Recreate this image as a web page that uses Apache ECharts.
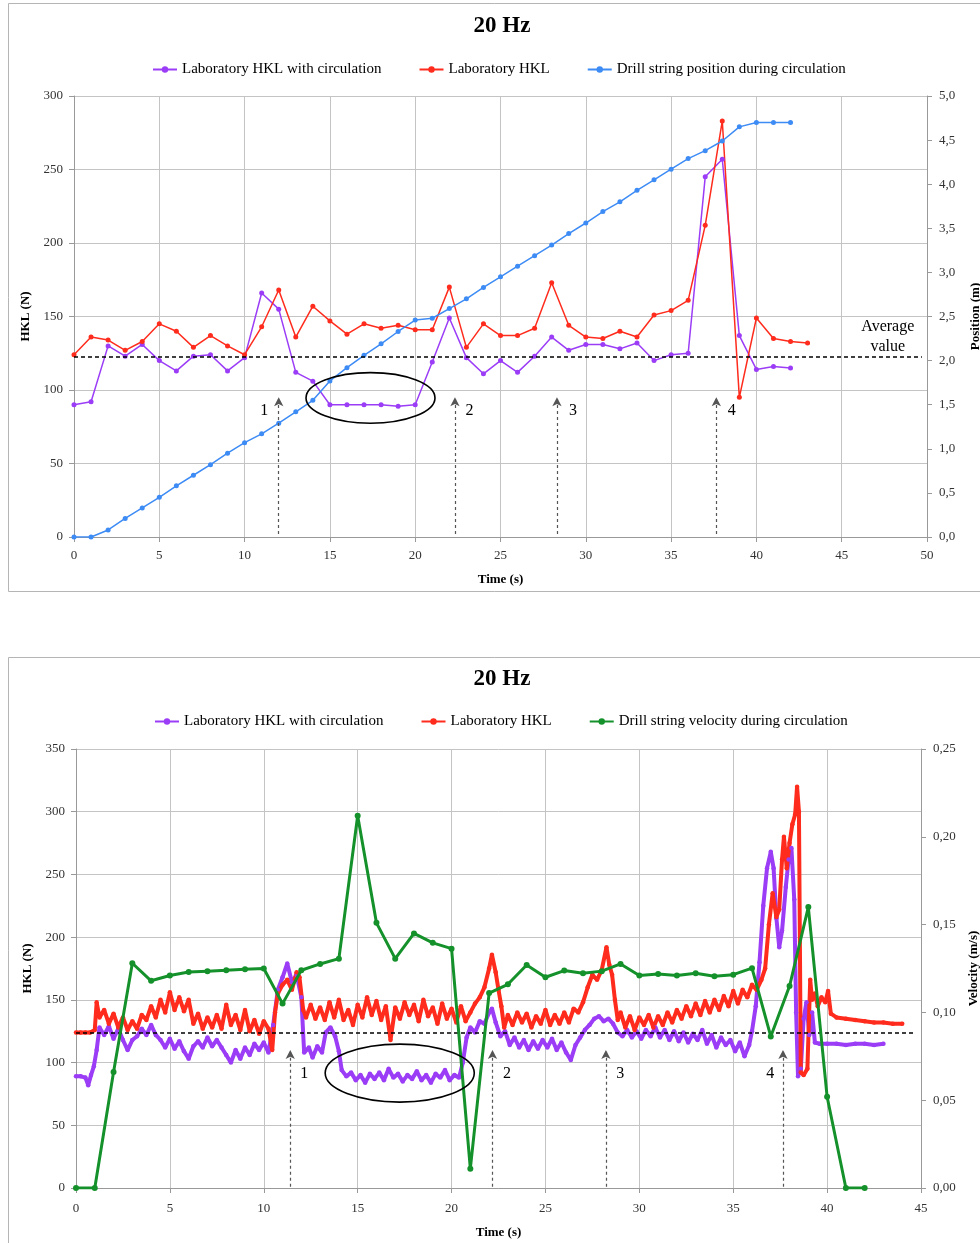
<!DOCTYPE html>
<html>
<head>
<meta charset="utf-8">
<script src="https://cdn.jsdelivr.net/npm/echarts@6/dist/echarts.min.js"></script>
<style>
html, body { margin: 0; padding: 0; background: #fff; }
#chart { width: 980px; height: 1243px; }
</style>
</head>
<body>
<div id="chart"></div>
<script>
// ---------- Upper panel: one sample per second ----------
const secondsHkl = [0,1,2,3,4,5,6,7,8,9,10,11,12,13,14,15,16,17,18,19,20,21,22,23,24,25,26,27,28,29,30,31,32,33,34,35,36,37,38,39,40,41,42,43];
const hklLab = [124,136,134,127,133,145,140,129,137,130,124,143,168,136,157,147,138,145,142,144,141,141,170,129,145,137,137,142,173,144,136,135,140,136,151,154,161,212,283,95,149,135,133,132];
const secondsCirc = [0,1,2,3,4,5,6,7,8,9,10,11,12,13,14,15,16,17,18,19,20,21,22,23,24,25,26,27,28,29,30,31,32,33,34,35,36,37,38,39,40,41,42];
const hklLabCirc = [90,92,130,123,131,120,113,123,124,113,122,166,155,112,106,90,90,90,90,89,90,119,149,122,111,120,112,123,136,127,131,131,128,132,120,124,125,245,257,137,114,116,115];
const stringPosition = [0,0,0.08,0.21,0.33,0.45,0.58,0.70,0.82,0.95,1.07,1.17,1.29,1.42,1.55,1.77,1.92,2.06,2.19,2.33,2.46,2.48,2.59,2.70,2.83,2.95,3.07,3.19,3.31,3.44,3.56,3.69,3.80,3.93,4.05,4.17,4.29,4.38,4.49,4.65,4.70,4.70,4.70];

// ---------- Lower panel: logged HKL [time s, N] and velocity per second ----------
const hklCircLog = [[0,89],[0.25,89],[0.5,88],[0.65,82],[0.8,90],[0.95,97],[1.1,110],[1.25,128],[1.5,122],[1.75,129],[2,119],[2.25,127],[2.5,118],[2.75,110],[3,118],[3.25,121],[3.5,127],[3.75,122],[4,130],[4.25,122],[4.5,118],[4.75,112],[5,119],[5.25,111],[5.5,117],[5.75,109],[6,103],[6.25,113],[6.5,117],[6.75,112],[7,120],[7.25,113],[7.5,118],[7.75,112],[8,106],[8.25,100],[8.5,110],[8.75,103],[9,112],[9.25,106],[9.5,115],[9.75,110],[10,116],[10.25,108],[10.5,130],[10.75,158],[11,168],[11.25,179],[11.5,164],[11.75,170],[12,152],[12.15,108],[12.4,112],[12.6,104],[12.85,113],[13.1,108],[13.3,124],[13.55,128],[13.8,121],[14,109],[14.15,94],[14.4,89],[14.65,92],[14.9,86],[15.15,90],[15.4,84],[15.65,91],[15.9,87],[16.15,92],[16.4,86],[16.65,95],[16.9,88],[17.15,91],[17.4,85],[17.65,90],[17.9,87],[18.15,93],[18.4,86],[18.65,90],[18.9,84],[19.15,91],[19.4,88],[19.65,94],[19.9,86],[20.15,90],[20.4,88],[20.6,100],[20.8,120],[21,128],[21.25,124],[21.5,133],[21.75,131],[22,140],[22.15,143],[22.35,132],[22.6,121],[22.85,125],[23.1,114],[23.35,120],[23.6,112],[23.85,118],[24.1,110],[24.35,117],[24.6,111],[24.85,118],[25.1,112],[25.35,119],[25.6,110],[25.85,116],[26.1,108],[26.35,102],[26.6,114],[26.85,120],[27.1,126],[27.35,130],[27.6,135],[27.85,137],[28.1,133],[28.35,135],[28.6,131],[28.85,124],[29.1,121],[29.35,126],[29.6,120],[29.85,125],[30.1,119],[30.35,126],[30.6,121],[30.85,128],[31.1,120],[31.35,126],[31.6,118],[31.85,125],[32.1,117],[32.35,124],[32.6,116],[32.85,123],[33.1,118],[33.35,126],[33.6,115],[33.85,122],[34.1,112],[34.35,120],[34.6,114],[34.85,118],[35.1,109],[35.35,116],[35.6,105],[35.85,114],[36,125],[36.2,145],[36.4,180],[36.6,225],[36.8,255],[37,268],[37.15,255],[37.3,215],[37.45,192],[37.6,205],[37.8,240],[37.95,262],[38.1,271],[38.25,230],[38.35,140],[38.45,89],[38.6,95],[38.75,135],[38.9,148],[39.05,122],[39.2,140],[39.35,116],[39.6,115],[40,115],[40.5,115],[41,114],[41.5,115],[42,115],[42.5,114],[43,115]];
const hklLog = [[0,124],[0.25,124],[0.5,124],[0.75,124],[1,126],[1.1,148],[1.25,136],[1.5,142],[1.75,131],[2,139],[2.25,128],[2.5,136],[2.75,126],[3,133],[3.25,127],[3.5,138],[3.75,134],[4,145],[4.25,136],[4.5,150],[4.75,140],[5,156],[5.25,142],[5.5,152],[5.75,141],[6,150],[6.25,131],[6.5,139],[6.75,127],[7,136],[7.25,128],[7.5,138],[7.75,127],[8,146],[8.25,130],[8.5,138],[8.75,126],[9,142],[9.25,125],[9.5,134],[9.75,123],[10,133],[10.25,127],[10.45,110],[10.6,140],[10.75,155],[11,162],[11.25,166],[11.5,158],[11.75,172],[11.9,168],[12.1,142],[12.25,136],[12.5,146],[12.75,135],[13,144],[13.25,134],[13.5,148],[13.75,136],[14,150],[14.25,134],[14.5,142],[14.75,130],[15,146],[15.25,136],[15.5,152],[15.75,138],[16,149],[16.25,134],[16.5,145],[16.75,118],[17,144],[17.25,135],[17.5,148],[17.75,138],[18,146],[18.25,133],[18.5,150],[18.75,137],[19,144],[19.25,131],[19.5,147],[19.75,135],[20,143],[20.25,132],[20.5,145],[20.75,133],[21,140],[21.25,147],[21.5,152],[21.75,160],[22,175],[22.15,186],[22.35,172],[22.5,158],[22.65,145],[22.8,128],[23,138],[23.25,130],[23.5,140],[23.75,132],[24,139],[24.25,128],[24.5,137],[24.75,131],[25,142],[25.25,130],[25.5,138],[25.75,131],[26,140],[26.25,132],[26.5,143],[26.75,140],[27,148],[27.25,160],[27.5,170],[27.75,166],[28,174],[28.25,192],[28.4,178],[28.55,170],[28.7,150],[28.85,134],[29,140],[29.25,128],[29.5,137],[29.75,126],[30,136],[30.25,130],[30.5,138],[30.75,128],[31,137],[31.25,130],[31.5,140],[31.75,132],[32,142],[32.25,135],[32.5,145],[32.75,137],[33,147],[33.25,138],[33.5,149],[33.75,140],[34,150],[34.25,142],[34.5,153],[34.75,145],[35,157],[35.25,147],[35.5,158],[35.75,152],[36,162],[36.25,158],[36.5,166],[36.7,175],[36.9,210],[37.1,235],[37.3,216],[37.45,222],[37.6,262],[37.7,280],[37.85,255],[38,275],[38.15,290],[38.3,298],[38.4,320],[38.5,300],[38.6,92],[38.75,90],[38.95,95],[39.1,166],[39.2,150],[39.35,155],[39.5,145],[39.7,152],[39.9,148],[40.05,157],[40.2,139],[40.5,136],[41,135],[41.5,134],[42,133],[42.5,132],[43,132],[43.5,131],[44,131]];
const secondsVel = [0,1,2,3,4,5,6,7,8,9,10,11,12,13,14,15,16,17,18,19,20,21,22,23,24,25,26,27,28,29,30,31,32,33,34,35,36,37,38,39,40,41,42];
const stringVelocity = [0,0,0.066,0.128,0.118,0.121,0.123,0.1235,0.124,0.1246,0.125,0.105,0.124,0.1276,0.1306,0.212,0.151,0.1306,0.145,0.1396,0.1363,0.011,0.111,0.116,0.127,0.120,0.1238,0.1223,0.1235,0.1276,0.121,0.1218,0.121,0.1223,0.1206,0.1215,0.1252,0.0863,0.115,0.160,0.052,0,0];

// ---------- Annotations (data units) ----------
const averageUpper = 122.5;
const averageLower = 123.5;
const eventsUpper = [12.0, 22.33, 28.31, 37.65];
const eventsLower = [11.41, 22.18, 28.22, 37.65];
const eventLabelsUpper = [[11.15, 86], [23.18, 86], [29.25, 86], [38.55, 86]];
const eventLabelsLower = [[12.16, 91], [22.95, 91], [28.98, 91], [36.97, 91]];
const eventNames = ['1', '2', '3', '4'];
const loopUpper = { x: [13.6, 21.16], y: [77.4, 111.8] };
const loopLower = { x: [13.27, 21.21], y: [68.5, 114.7] };

const SERIF = 'Liberation Serif';
const PURPLE = '#9b3cf6';
const RED = '#ff2b1c';
const BLUE = '#3d8bf5';
const GREEN = '#14912a';
const GRID_GREY = '#c4c4c4';

const pairs = (xs, ys) => xs.map((x, i) => [x, ys[i]]);

function xAxisFor(gridIndex, max) {
  return {
    type: 'value', gridIndex, min: 0, max, interval: 5,
    name: 'Time (s)', nameLocation: 'middle', nameGap: gridIndex === 0 ? 36 : 38,
    nameTextStyle: { fontFamily: SERIF, fontWeight: 'bold', fontSize: 13, color: '#000' },
    axisLine: { show: true, lineStyle: { color: '#999', width: 1 } },
    axisTick: { show: true, length: 5, lineStyle: { color: '#999' } },
    axisLabel: { fontFamily: SERIF, fontSize: 13, color: '#333', margin: gridIndex === 0 ? 12 : 14 },
    splitLine: { show: true, lineStyle: { color: GRID_GREY, width: 1 } }
  };
}
function leftAxisFor(gridIndex, max) {
  return {
    type: 'value', gridIndex, position: 'left', min: 0, max, interval: 50,
    name: 'HKL (N)', nameLocation: 'middle', nameGap: 40, nameRotate: 90,
    nameTextStyle: { fontFamily: SERIF, fontWeight: 'bold', fontSize: 13, color: '#000' },
    axisLine: { show: true, lineStyle: { color: '#999', width: 1 } },
    axisTick: { show: true, length: 5, lineStyle: { color: '#999' } },
    axisLabel: { fontFamily: SERIF, fontSize: 13, color: '#333', margin: 11 },
    splitLine: { show: true, lineStyle: { color: GRID_GREY, width: 1 } }
  };
}
function rightAxisFor(gridIndex, max, interval, digits, name, gap) {
  return {
    type: 'value', gridIndex, position: 'right', min: 0, max, interval,
    name, nameLocation: 'middle', nameGap: gap, nameRotate: 90,
    nameTextStyle: { fontFamily: SERIF, fontWeight: 'bold', fontSize: 13, color: '#000' },
    axisLine: { show: true, lineStyle: { color: '#999', width: 1 } },
    axisTick: { show: true, length: 5, lineStyle: { color: '#999' } },
    axisLabel: { fontFamily: SERIF, fontSize: 13, color: '#333', margin: 12,
      formatter: v => v.toFixed(digits).replace('.', ',') },
    splitLine: { show: false }
  };
}

function arrowLines(xs, y0, y1) {
  return xs.map(x => [
    { coord: [x, y0], symbol: 'none', lineStyle: { type: [3, 3], color: '#555', width: 1.2 } },
    { coord: [x, y1], symbol: 'arrow', symbolSize: [7, 9], lineStyle: { type: [3, 3], color: '#555', width: 1.2 } }
  ]);
}
function averageLine(y, xEnd) {
  return [
    { coord: [0, y], symbol: 'none', lineStyle: { type: [4, 3], color: '#000', width: 1.6 } },
    { coord: [xEnd, y], symbol: 'none', lineStyle: { type: [4, 3], color: '#000', width: 1.6 } }
  ];
}

const legendText = { fontFamily: SERIF, fontSize: 15, color: '#000' };

const option = {
  animation: false,
  backgroundColor: '#fff',
  title: [
    { text: '20 Hz', left: 497, top: 10, textAlign: 'center',
      textStyle: { fontFamily: SERIF, fontWeight: 'bold', fontSize: 23, color: '#000' } },
    { text: '20 Hz', left: 497, top: 663, textAlign: 'center',
      textStyle: { fontFamily: SERIF, fontWeight: 'bold', fontSize: 23, color: '#000' } }
  ],
  legend: [
    { left: 147, top: 57, itemWidth: 24, itemHeight: 8, itemGap: 37, textStyle: legendText,
      data: ['Laboratory HKL with circulation', 'Laboratory HKL', 'Drill string position during circulation'] },
    { left: 149, top: 709, itemWidth: 24, itemHeight: 8, itemGap: 37, textStyle: legendText,
      formatter: name => name.trim(),
      data: ['Laboratory HKL with circulation ', 'Laboratory HKL ', 'Drill string velocity during circulation'] }
  ],
  grid: [
    { left: 74, top: 96, width: 853, height: 441, outerBoundsMode: 'none', containLabel: false },
    { left: 76, top: 749, width: 845, height: 439, outerBoundsMode: 'none', containLabel: false }
  ],
  xAxis: [xAxisFor(0, 50), xAxisFor(1, 45)],
  yAxis: [
    leftAxisFor(0, 300),
    rightAxisFor(0, 5, 0.5, 1, 'Position (m)', 42),
    leftAxisFor(1, 350),
    rightAxisFor(1, 0.25, 0.05, 2, 'Velocity (m/s)', 45)
  ],
  series: [
    { name: 'Laboratory HKL with circulation', type: 'line', xAxisIndex: 0, yAxisIndex: 0,
      data: pairs(secondsCirc, hklLabCirc), color: PURPLE,
      lineStyle: { width: 1.5 }, symbol: 'circle', symbolSize: 5 },
    { name: 'Laboratory HKL', type: 'line', xAxisIndex: 0, yAxisIndex: 0,
      data: pairs(secondsHkl, hklLab), color: RED,
      lineStyle: { width: 1.5 }, symbol: 'circle', symbolSize: 5,
      markLine: { silent: true, animation: false, label: { show: false }, symbol: 'none',
        data: [averageLine(averageUpper, 49.7)].concat(arrowLines(eventsUpper, 2, 95)) } },
    { name: 'Drill string position during circulation', type: 'line', xAxisIndex: 0, yAxisIndex: 1,
      data: pairs(secondsCirc, stringPosition), color: BLUE,
      lineStyle: { width: 1.5 }, symbol: 'circle', symbolSize: 5 },

    { name: 'Laboratory HKL with circulation ', type: 'line', xAxisIndex: 1, yAxisIndex: 2,
      data: hklCircLog, color: PURPLE,
      lineStyle: { width: 4 }, symbol: 'circle', symbolSize: 4.5 },
    { name: 'Laboratory HKL ', type: 'line', xAxisIndex: 1, yAxisIndex: 2,
      data: hklLog, color: RED,
      lineStyle: { width: 4 }, symbol: 'circle', symbolSize: 4.5,
      markLine: { silent: true, animation: false, label: { show: false }, symbol: 'none',
        data: [averageLine(averageLower, 44.7)].concat(arrowLines(eventsLower, 1, 110)) } },
    { name: 'Drill string velocity during circulation', type: 'line', xAxisIndex: 1, yAxisIndex: 3,
      data: pairs(secondsVel, stringVelocity), color: GREEN,
      lineStyle: { width: 3 }, symbol: 'circle', symbolSize: 6, z: 5 }
  ]
};

const chart = echarts.init(document.getElementById('chart'), null, { renderer: 'canvas' });
chart.setOption(option);

// Frames, event numbers, ellipses and the average-value note, placed via the axes
function toPx(panel, p) {
  return chart.convertToPixel({ xAxisIndex: panel, yAxisIndex: panel * 2 }, p);
}
function ellipseFor(panel, box) {
  const a = toPx(panel, [box.x[0], box.y[1]]);
  const b = toPx(panel, [box.x[1], box.y[0]]);
  return {
    type: 'ellipse', silent: true, z: 10,
    shape: { cx: (a[0] + b[0]) / 2, cy: (a[1] + b[1]) / 2, rx: Math.abs(b[0] - a[0]) / 2, ry: Math.abs(b[1] - a[1]) / 2 },
    style: { fill: null, stroke: '#000', lineWidth: 1.6 }
  };
}
function numberLabels(panel, spots) {
  return spots.map((s, i) => {
    const p = toPx(panel, s);
    return { type: 'text', silent: true, z: 10, x: p[0], y: p[1],
      style: { text: eventNames[i], fontFamily: SERIF, fontSize: 16, fill: '#000', align: 'center', verticalAlign: 'middle' } };
  });
}
const note = toPx(0, [47.7, 136]);
const elements = [
  { type: 'rect', silent: true, z: -1, shape: { x: 8.5, y: 3.5, width: 990, height: 588 },
    style: { fill: null, stroke: '#b5b5b5', lineWidth: 1 } },
  { type: 'rect', silent: true, z: -1, shape: { x: 8.5, y: 657.5, width: 990, height: 620 },
    style: { fill: null, stroke: '#b5b5b5', lineWidth: 1 } },
  ellipseFor(0, loopUpper),
  ellipseFor(1, loopLower),
  { type: 'text', silent: true, z: 10, x: note[0], y: note[1],
    style: { text: 'Average\nvalue', fontFamily: SERIF, fontSize: 16, lineHeight: 20, fill: '#000', align: 'center', verticalAlign: 'middle' } }
].concat(numberLabels(0, eventLabelsUpper), numberLabels(1, eventLabelsLower));
chart.setOption({ graphic: { elements } });
</script>
</body>
</html>
